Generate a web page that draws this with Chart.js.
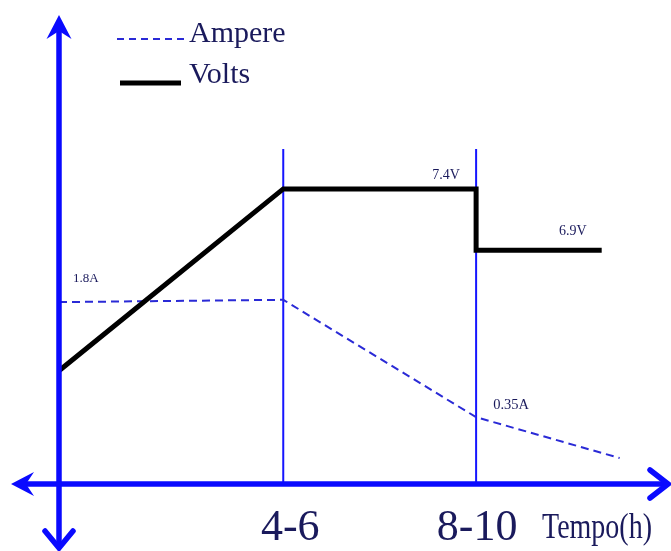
<!DOCTYPE html>
<html><head><meta charset="utf-8">
<script src="https://cdn.jsdelivr.net/npm/chart.js@4.4.0/dist/chart.umd.min.js"></script>
<style>html,body{margin:0;padding:0;background:#fff;overflow:hidden}canvas{display:block}</style>
</head><body>
<canvas id="c" width="671" height="551"></canvas>
<script>
// ---- data (vertical scale is a unitless level 0..100) ----
const timeTicks = [5, 9.3];
const timeTickLabels = ['4-6', '8-10'];
const axisTitle = 'Tempo(h)';
const seriesNames = ['Ampere', 'Volts'];
const voltsX = [0, 5, 9.3, 9.3, 12.1];
const voltsY = [24.4, 63.6, 63.6, 50.4, 50.4];
const ampereX = [0, 5, 9.3, 12.5];
const ampereY = [39.2, 39.7, 14.4, 5.6];
const markerX = [5, 9.3];
const markerTop = 72.2;
const labelTexts = ['1.8A', '7.4V', '6.9V', '0.35A'];
const labelX = [0, 9.3, 12.1, 9.3];
const labelY = [39.2, 63.6, 50.4, 14.4];

// ---- styles ----
const BLUE = '#0a0aff', NAVY = '#1a1a5c', DASHBLUE = '#2a2ad6', MARKBLUE = '#1515ff';
const SERIF = '"Liberation Serif", "DejaVu Serif", serif';
const labelStyle = [
  {dx: 14, dy: -20, align: 'left', size: 13},
  {dx: -30, dy: -10, align: 'center', size: 14},
  {dx: -29, dy: -15, align: 'center', size: 14},
  {dx: 35, dy: -8, align: 'center', size: 14.5}
];
const tickStyle = [{dx: 7}, {dx: 1}];

function pts(xs, ys) { return xs.map((x, i) => ({x: x, y: ys[i]})); }

const datasets = [
  {label: seriesNames[1], data: pts(voltsX, voltsY), borderColor: '#000', borderWidth: 5,
   borderJoinStyle: 'miter', borderCapStyle: 'butt', order: 0},
  {label: seriesNames[0], data: pts(ampereX, ampereY), borderColor: DASHBLUE, borderWidth: 2,
   borderDash: [8, 5], order: 1}
].concat(markerX.map(x => ({label: 'marker', data: [{x: x, y: 0}, {x: x, y: markerTop}],
   borderColor: MARKBLUE, borderWidth: 2, order: 2})));

const decor = {
  id: 'decor',
  afterDraw(chart) {
    const ctx = chart.ctx, xs = chart.scales.x, ys = chart.scales.y;
    const x0 = xs.getPixelForValue(0), y0 = ys.getPixelForValue(0);
    ctx.save();
    // axes
    ctx.strokeStyle = BLUE; ctx.fillStyle = BLUE; ctx.lineWidth = 5.5; ctx.lineCap = 'butt';
    ctx.beginPath(); ctx.moveTo(x0, 30); ctx.lineTo(x0, 547); ctx.stroke();
    ctx.beginPath(); ctx.moveTo(25, y0); ctx.lineTo(667, y0); ctx.stroke();
    // up arrow (filled barb)
    ctx.beginPath(); ctx.moveTo(x0, 15); ctx.lineTo(x0 + 12.5, 39); ctx.lineTo(x0, 31);
    ctx.lineTo(x0 - 12.5, 39); ctx.closePath(); ctx.fill();
    // left arrow (filled barb)
    ctx.beginPath(); ctx.moveTo(11, y0); ctx.lineTo(34, y0 - 12); ctx.lineTo(26, y0);
    ctx.lineTo(34, y0 + 12); ctx.closePath(); ctx.fill();
    // down & right chevrons
    ctx.lineCap = 'round'; ctx.lineJoin = 'miter'; ctx.lineWidth = 5.5;
    ctx.beginPath(); ctx.moveTo(x0 - 14, 531); ctx.lineTo(x0, 548); ctx.lineTo(x0 + 14, 531); ctx.stroke();
    ctx.beginPath(); ctx.moveTo(650, y0 - 14); ctx.lineTo(668, y0); ctx.lineTo(650, y0 + 14); ctx.stroke();

    // legend
    ctx.lineCap = 'butt';
    const amp = chart.data.datasets[1], vol = chart.data.datasets[0];
    ctx.strokeStyle = amp.borderColor; ctx.lineWidth = 2; ctx.setLineDash([7, 5]);
    ctx.beginPath(); ctx.moveTo(117, 39); ctx.lineTo(184, 39); ctx.stroke();
    ctx.setLineDash([]);
    ctx.strokeStyle = vol.borderColor; ctx.lineWidth = 5;
    ctx.beginPath(); ctx.moveTo(120, 83); ctx.lineTo(181, 83); ctx.stroke();
    ctx.fillStyle = NAVY; ctx.textAlign = 'left'; ctx.textBaseline = 'alphabetic';
    ctx.font = '30px ' + SERIF;
    ctx.fillText(amp.label, 189, 42);
    ctx.fillText(vol.label, 189, 83);

    // value labels
    labelTexts.forEach((t, i) => {
      const s = labelStyle[i];
      ctx.font = s.size + 'px ' + SERIF; ctx.textAlign = s.align;
      ctx.fillText(t, xs.getPixelForValue(labelX[i]) + s.dx, ys.getPixelForValue(labelY[i]) + s.dy);
    });

    // tick labels
    ctx.font = '44px ' + SERIF; ctx.textAlign = 'center';
    timeTicks.forEach((v, i) => {
      ctx.fillText(timeTickLabels[i], xs.getPixelForValue(v) + tickStyle[i].dx, 540);
    });
    // axis title (condensed)
    ctx.font = '35px ' + SERIF; ctx.textAlign = 'left';
    const w = ctx.measureText(axisTitle).width;
    ctx.translate(542, 538); ctx.scale(110 / w, 1);
    ctx.fillText(axisTitle, 0, 0);
    ctx.restore();
  }
};

new Chart(document.getElementById('c'), {
  type: 'line',
  data: {datasets: datasets},
  options: {
    responsive: false, animation: false, devicePixelRatio: 1,
    layout: {padding: {left: 59, right: 11, top: 20, bottom: 67}},
    elements: {point: {radius: 0}, line: {tension: 0, fill: false}},
    scales: {
      x: {type: 'linear', min: 0, max: 13.4, display: false},
      y: {type: 'linear', min: 0, max: 100, display: false}
    },
    plugins: {legend: {display: false}, tooltip: {enabled: false}}
  },
  plugins: [decor]
});
</script>
</body></html>
